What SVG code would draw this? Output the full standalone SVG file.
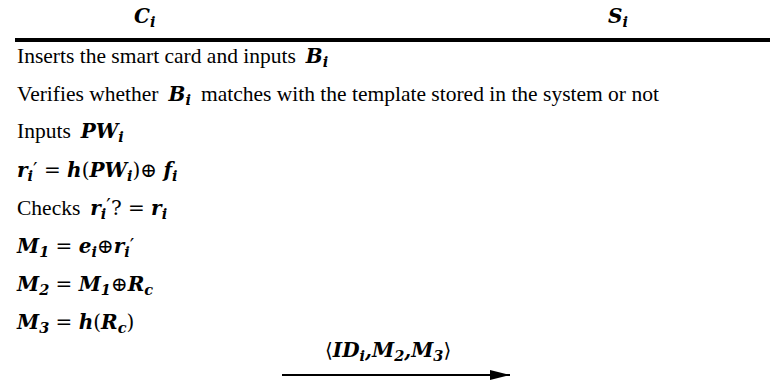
<svg xmlns="http://www.w3.org/2000/svg" width="770" height="384" viewBox="0 0 770 384">
<style>
.t{font-family:"Liberation Serif","Times New Roman",serif;font-size:21.5px;fill:#000}
.m{font-family:"DejaVu Serif",serif;font-size:20px;font-weight:bold;font-style:italic;fill:#000}
.n{font-style:normal;font-weight:normal}
.s{font-size:14.5px}
</style>
<defs>
<marker id="ah" markerWidth="20" markerHeight="10" refX="20" refY="5" orient="auto" markerUnits="userSpaceOnUse">
<path d="M0,0 L20,5 L0,10 Z" fill="#000"/>
</marker>
</defs>
<g id="header">
<text class="m" x="134" y="23">C<tspan class="s" dy="4">i</tspan></text>
<text class="m" x="608" y="23">S<tspan class="s" dy="4">i</tspan></text>
<rect x="15" y="38" width="755" height="4" fill="#000"/>
</g>
<g id="steps">
<text class="t" x="17" y="63">Inserts the smart card and inputs<tspan class="m" dx="10">B<tspan class="s" dy="4">i</tspan></tspan></text>
<text class="t" x="17" y="101">Verifies whether<tspan class="m" dx="10">B<tspan class="s" dy="4">i</tspan></tspan><tspan dx="10" dy="-4">matches with the template stored in the system or not</tspan></text>
<text class="t" x="17" y="138">Inputs<tspan class="m" dx="10">PW<tspan class="s" dy="4">i</tspan></tspan></text>
<text class="m" x="17" y="177">r<tspan class="s" dy="4">i</tspan><tspan class="n" dy="-4">′ = </tspan>h<tspan class="n">(</tspan>PW<tspan class="s" dy="4">i</tspan><tspan class="n" dy="-4">)⊕ </tspan>f<tspan class="s" dy="4">i</tspan></text>
<text class="t" x="17" y="215">Checks<tspan class="m" dx="10">r<tspan class="s" dy="4">i</tspan><tspan class="n" dy="-6">′</tspan><tspan class="n" dy="2">? = </tspan>r<tspan class="s" dy="4">i</tspan></tspan></text>
<text class="m" x="17" y="253">M<tspan class="s" dy="4">1</tspan><tspan class="n" dy="-4"> = </tspan>e<tspan class="s" dy="4">i</tspan><tspan class="n" dy="-4">⊕</tspan>r<tspan class="s" dy="4">i</tspan><tspan class="n" dy="-4">′</tspan></text>
<text class="m" x="17" y="291">M<tspan class="s" dy="4">2</tspan><tspan class="n" dy="-4"> = </tspan>M<tspan class="s" dy="4">1</tspan><tspan class="n" dy="-4">⊕</tspan>R<tspan class="s" dy="4">c</tspan></text>
<text class="m" x="17" y="329">M<tspan class="s" dy="4">3</tspan><tspan class="n" dy="-4"> = </tspan>h<tspan class="n">(</tspan>R<tspan class="s" dy="4">c</tspan><tspan class="n" dy="-4">)</tspan></text>
</g>
<g id="connectors">
<line x1="282" y1="375" x2="510" y2="375" stroke="#000" stroke-width="2" marker-end="url(#ah)"/>
<text class="m" x="325" y="357"><tspan class="n">⟨</tspan>ID<tspan class="s" dy="4">i</tspan><tspan dy="-4">,M</tspan><tspan class="s" dy="4">2</tspan><tspan dy="-4">,M</tspan><tspan class="s" dy="4">3</tspan><tspan class="n" dy="-4">⟩</tspan></text>
</g>
</svg>
